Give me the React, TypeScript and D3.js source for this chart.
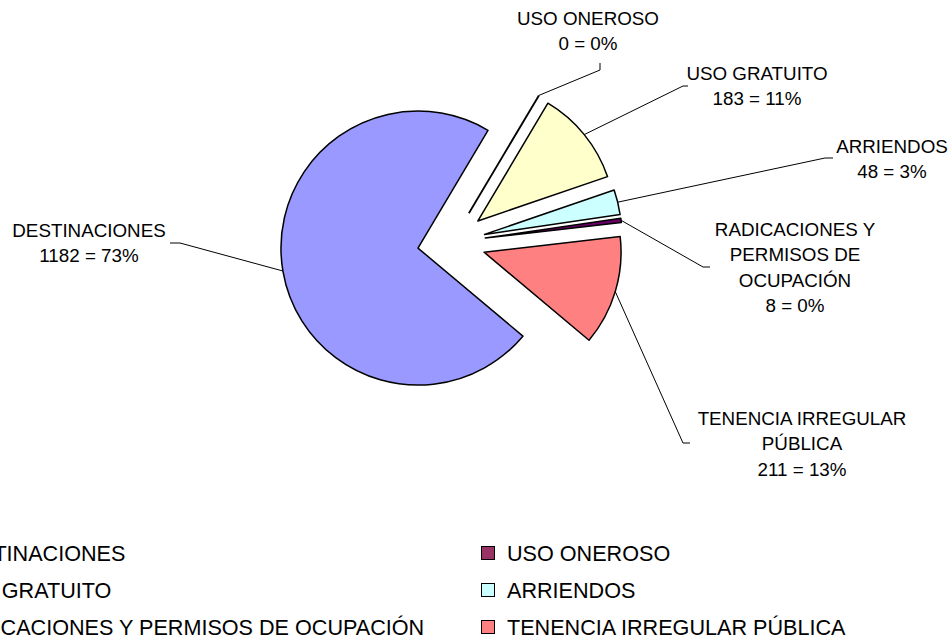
import React from "react";
import * as d3 from "d3";

const categories = [
  "DESTINACIONES",
  "USO ONEROSO",
  "USO GRATUITO",
  "ARRIENDOS",
  "RADICACIONES Y PERMISOS DE OCUPACIÓN",
  "TENENCIA IRREGULAR PÚBLICA",
];
const values = [1182, 0, 183, 48, 8, 211];
const percentLabels = ["73%", "0%", "11%", "3%", "0%", "13%"];
const labelLines = [
  ["DESTINACIONES"],
  ["USO ONEROSO"],
  ["USO GRATUITO"],
  ["ARRIENDOS"],
  ["RADICACIONES Y", "PERMISOS DE", "OCUPACIÓN"],
  ["TENENCIA IRREGULAR", "PÚBLICA"],
];
const colors = ["#9999FF", "#993366", "#FFFFCC", "#CCFFFF", "#660066", "#FF8080"];

// layout
const W = 952;
const H = 638;
const CX = 451.5;
const CY = 242.4;
const R = 137;
const EXPLODE = 34;
const START_DEG = 130;
const FONT = "'Liberation Sans', Arial, sans-serif";
const LABEL_SIZE = 18.8;
const LINE_H = 25.5;

// label text centre x / first-line centre y, and leader elbow/end points
const labelLayout = [
  { x: 89, y: 230, elbow: [180, 243], end: [170, 243] },
  { x: 588, y: 18, elbow: [600, 70], end: [600, 63] },
  { x: 757, y: 73, elbow: [683, 86], end: [688, 86] },
  { x: 892, y: 146, elbow: [825, 158], end: [833, 158] },
  { x: 795, y: 229, elbow: [703, 267], end: [710, 267] },
  { x: 802, y: 418, elbow: [683, 443], end: [690, 443] },
];

const LEGEND_COLS = [-51, 507];
const LEGEND_ROWS = [553, 590, 627];
const LEGEND_SIZE = 21.6;

export default function App() {
  const pie = d3
    .pie<number>()
    .sort(null)
    .value((d) => d)
    .startAngle((START_DEG * Math.PI) / 180)
    .endAngle((START_DEG * Math.PI) / 180 + 2 * Math.PI);
  const arcs = pie(values);
  const arcGen = d3.arc<d3.PieArcDatum<number>>().innerRadius(0).outerRadius(R);

  const pt = (a: number, r: number): [number, number] => [Math.sin(a) * r, -Math.cos(a) * r];

  return (
    <svg
      width={W}
      height={H}
      style={{ position: "absolute", left: 0, top: 0, background: "#fff" }}
      fontFamily={FONT}
    >
      <rect x={0} y={0} width={W} height={H} fill="#fff" />
      {arcs.map((a, i) => {
        const mid = (a.startAngle + a.endAngle) / 2;
        const [ox, oy] = pt(mid, EXPLODE);
        const vx = CX + ox;
        const vy = CY + oy;
        const [mx, my] = pt(mid, R);
        const lay = labelLayout[i];
        const leader = d3.line()([
          [vx + mx, vy + my],
          lay.elbow as [number, number],
          lay.end as [number, number],
        ]);
        const isZero = a.endAngle - a.startAngle < 1e-6;
        return (
          <g key={i}>
            {isZero ? (
              <line
                x1={vx}
                y1={vy}
                x2={vx + mx}
                y2={vy + my}
                stroke="#000"
                strokeWidth={1.8}
              />
            ) : (
              <path
                d={arcGen(a) || ""}
                transform={`translate(${vx},${vy})`}
                fill={colors[i]}
                stroke="#000"
                strokeWidth={1.5}
                strokeLinejoin="round"
              />
            )}
            <path d={leader || ""} fill="none" stroke="#000" strokeWidth={1} />
          </g>
        );
      })}
      {arcs.map((a, i) => {
        const lay = labelLayout[i];
        const lines = [...labelLines[i], `${values[i]} = ${percentLabels[i]}`];
        return (
          <text
            key={"l" + i}
            x={lay.x}
            textAnchor="middle"
            fontSize={LABEL_SIZE}
            fill="#000"
          >
            {lines.map((t, j) => (
              <tspan key={j} x={lay.x} y={lay.y + j * LINE_H} dy="0.36em">
                {t}
              </tspan>
            ))}
          </text>
        );
      })}
      {categories.map((c, i) => {
        const col = i % 2;
        const row = Math.floor(i / 2);
        const tx = LEGEND_COLS[col];
        const ty = LEGEND_ROWS[row];
        return (
          <g key={"g" + i}>
            <rect
              x={tx - 25.5}
              y={ty - 6.5}
              width={13}
              height={13}
              fill={colors[i]}
              stroke="#000"
              strokeWidth={1}
            />
            <text x={tx} y={ty} dy="0.36em" fontSize={LEGEND_SIZE} fill="#000">
              {c}
            </text>
          </g>
        );
      })}
    </svg>
  );
}
